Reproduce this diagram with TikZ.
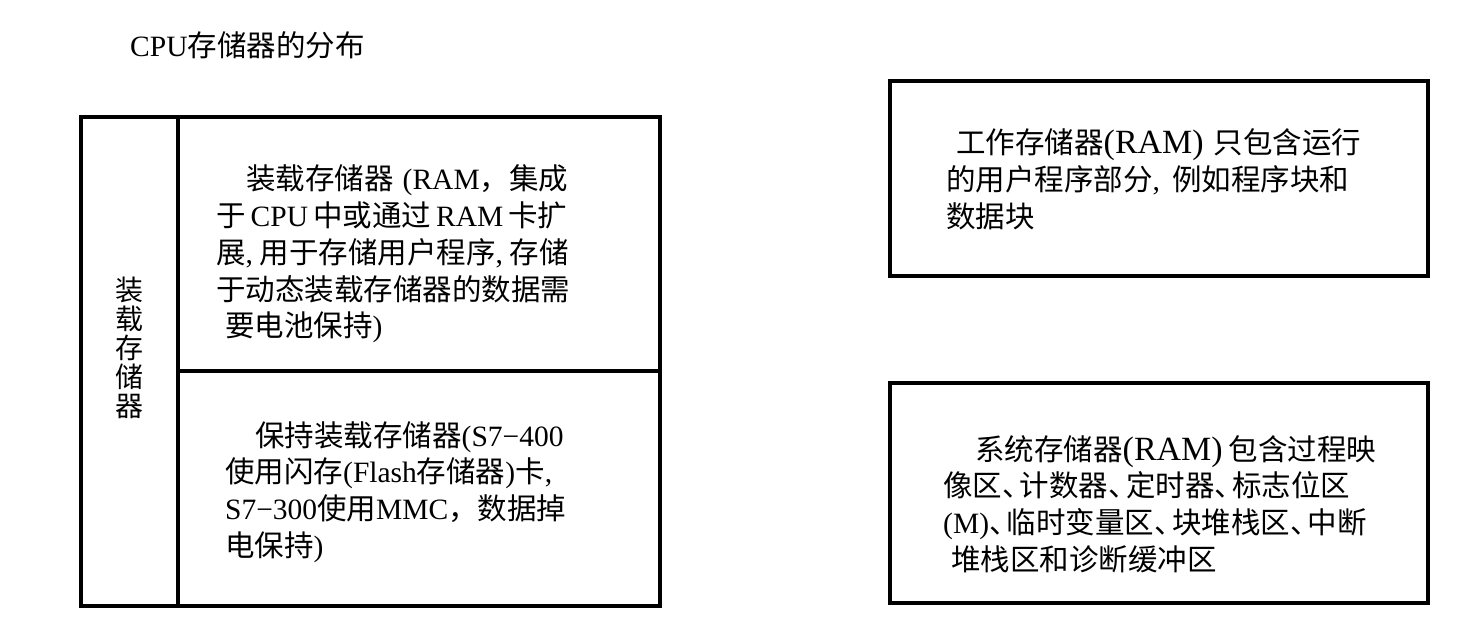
\documentclass[tikz,border=0pt]{standalone}
\usepackage{fontspec}
\setmainfont{Noto Sans CJK SC}
\newfontfamily\latf{Liberation Serif}
\newfontfamily\latb{Liberation Serif}[Scale=1.15]
\newcommand\tm[1]{{\latf #1}}
\newcommand\tb[1]{{\latb #1}}
\newcommand\dn{\makebox[0.6em][l]{、}}
\tikzset{
  box/.style={draw, line width=3.5pt},
  txt/.style={anchor=west, align=left, inner sep=0pt, font=\fontsize{29.5}{36.8}\selectfont},
  vtxt/.style={align=center, inner sep=0pt, font=\fontsize{28}{29}\selectfont},
  ttl/.style={anchor=west, inner sep=0pt, font=\fontsize{29.5}{32}\selectfont},
}
\begin{document}
\begin{tikzpicture}[x=1pt,y=-1pt]
\useasboundingbox (0,0) rectangle (1457,622);
% left block
\draw[box] (81,117) rectangle (660,606);
\draw[box] (178,117) -- (178,606);
\draw[box] (178,371) -- (660,371);
% right blocks
\draw[box] (890,81) rectangle (1428,276);
\draw[box] (890,383) rectangle (1428,603);
% title
\node[ttl] (title) at (130,45) {\tm{CPU}存储器的分布};
% vertical label
\node[vtxt] (lm) at (129,348) {装\\载\\存\\储\\器};
% texts
\node[txt] (load) at (216,254) {\hspace*{30pt}装载存储器\hspace{9pt}\tm{(RAM}，集成\\ 于\hspace{5pt}\tm{CPU}\hspace{5pt}中或通过\hspace{5pt}\tm{RAM}\hspace{5pt}卡扩\\ 展\tm{,} 用于存储用户程序\tm{,} 存储\\ 于动态装载存储器的数据需\\ \hspace*{9pt}要电池保持\tm{)}};
\node[txt] (keep) at (225,492) {\hspace*{30pt}保持装载存储器\tm{(S7−400}\\ 使用闪存\tm{(Flash}存储器\tm{)}卡\tm{,}\\ \tm{S7−300}使用\tm{MMC}，数据掉\\ 电保持\tm{)}};
\node[txt] (work) at (946,179) {\hspace*{10pt}工作存储器\tb{(RAM)}\hspace{10pt}只包含运行\\ 的用户程序部分\tm{,}\hspace{12pt}例如程序块和\\ 数据块};
\node[txt] (sysm) at (943,504) {\hspace*{32pt}系统存储器\tb{(RAM)}\hspace{6pt}包含过程映\\ 像区\dn 计数器\dn 定时器\dn 标志位区\\ \tm{(M)}\dn 临时变量区\dn 块堆栈区\dn 中断\\ \hspace*{8pt}堆栈区和诊断缓冲区};
\end{tikzpicture}
\end{document}
